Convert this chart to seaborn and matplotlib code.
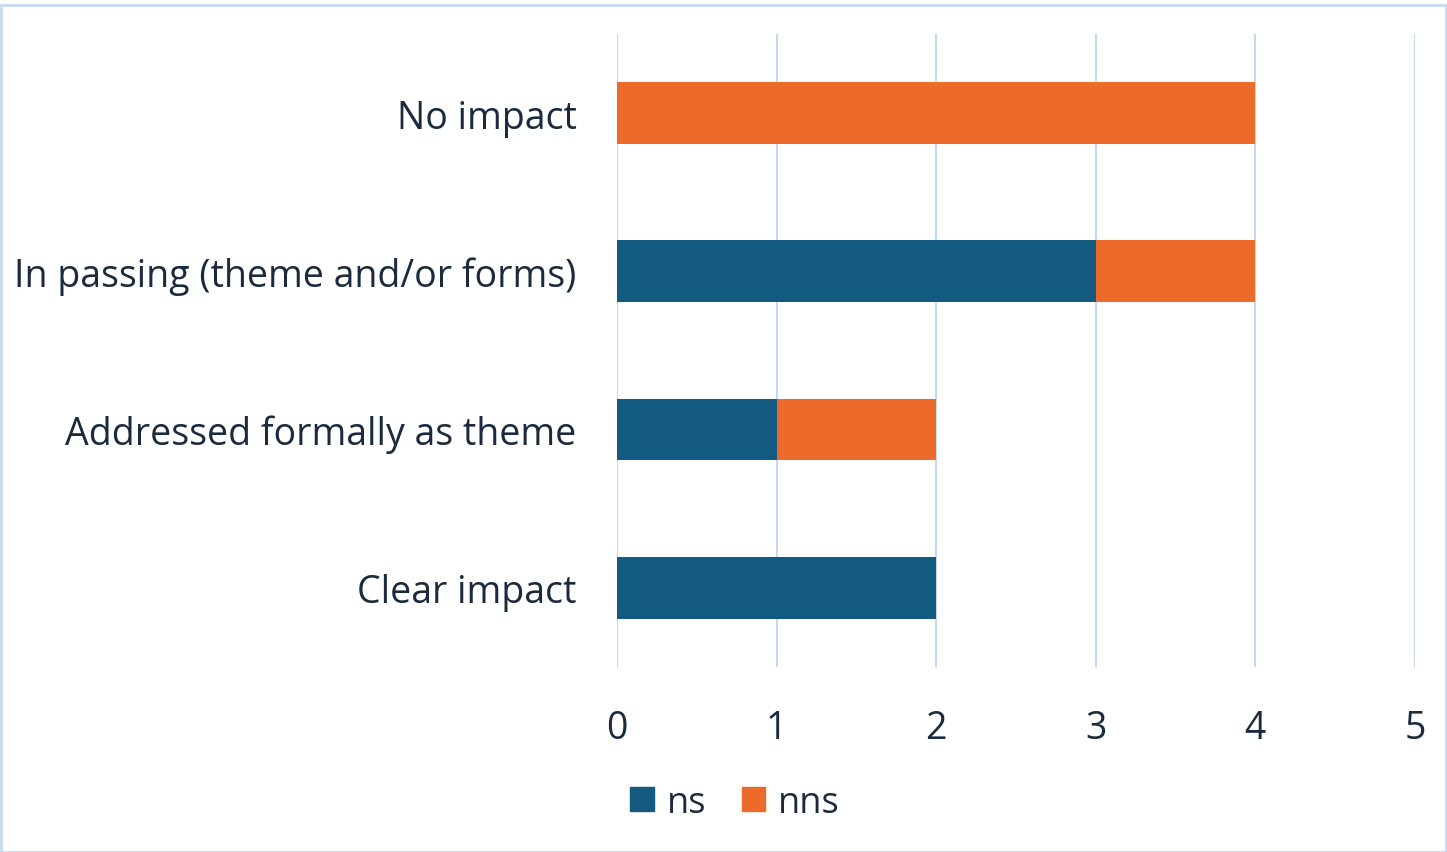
import pandas as pd
import seaborn as sns
import matplotlib.pyplot as plt
from matplotlib.patches import Patch, Rectangle

categories = ['No impact', 'In passing (theme and/or forms)', 'Addressed formally as theme', 'Clear impact']
ns = [0, 3, 1, 2]
nns = [4, 1, 1, 0]
ticks = [0, 1, 2, 3, 4, 5]

df = pd.DataFrame({'category': categories, 'ns': ns, 'nns': nns})
df['total'] = df['ns'] + df['nns']

blue = '#135a80'
orange = '#ec6a2a'
text_col = '#1b2a3e'
grid_col = '#c5d8f0'

sns.set_style('white')
plt.rcParams['font.family'] = ['Open Sans', 'DejaVu Sans']

fig = plt.figure(figsize=(14.47, 8.53), dpi=100)
ax = fig.add_axes([0.4264, 0.217, 0.5515, 0.742])

# stacked: total first (orange), then ns on top (blue)
sns.barplot(data=df, x='total', y='category', orient='h', color=orange, width=0.39, ax=ax,
            saturation=1, linewidth=0)
sns.barplot(data=df, x='ns', y='category', orient='h', color=blue, width=0.39, ax=ax,
            saturation=1, linewidth=0)

ax.set_xlim(0, 5)
ax.set_ylim(3.5, -0.5)
ax.set_xticks(ticks)
ax.set_xticklabels([str(t) for t in ticks])
ax.xaxis.grid(True, color=grid_col, linewidth=1.5)
ax.set_axisbelow(True)
for s in ax.spines.values():
    s.set_visible(False)
ax.tick_params(axis='x', length=0, pad=30, labelsize=27, labelcolor=text_col)
ax.tick_params(axis='y', length=0, pad=29, labelsize=27, labelcolor=text_col)
ax.set_xlabel('')
ax.set_ylabel('')

handles = [Patch(color=blue, label='ns'), Patch(color=orange, label='nns')]
fig.legend(handles=handles, loc='center', bbox_to_anchor=(0.508, 0.058), ncol=2, frameon=False,
           fontsize=26, labelcolor=text_col, handlelength=0.65, handleheight=0.65,
           handletextpad=0.35, columnspacing=1.0)

fig.patches.append(Rectangle((0.001, 0.0), 0.998, 0.993, transform=fig.transFigure,
                             fill=False, edgecolor=grid_col, linewidth=2))

fig.savefig('out.png', dpi=100, facecolor='white')
